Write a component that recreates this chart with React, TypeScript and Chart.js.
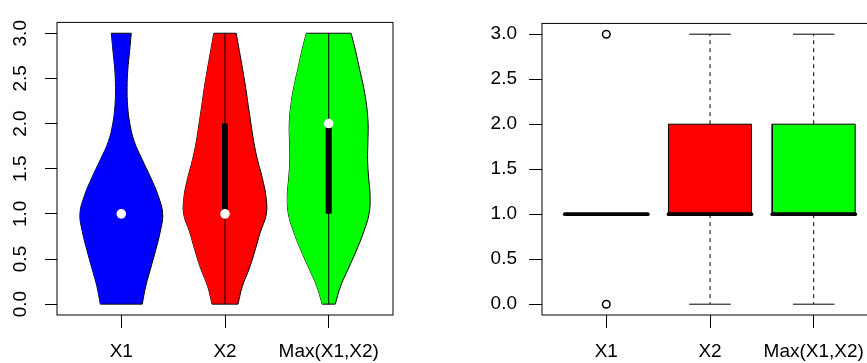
import React, { useEffect, useRef } from 'react';
import { Chart, registerables } from 'chart.js';

Chart.register(...registerables);

// ---------- data ----------
const categories = ['X1', 'X2', 'Max(X1,X2)'];
const yTickValues = [0, 0.5, 1, 1.5, 2, 2.5, 3];
const yTickLabels = ['0.0', '0.5', '1.0', '1.5', '2.0', '2.5', '3.0'];
const fillColors = ['#0000FF', '#FF0000', '#00FF00'];

// violin half-widths (in category units) read at these y levels
const densityY = [0, 0.2, 0.4, 0.6, 0.8, 1.0, 1.2, 1.4, 1.6, 1.8, 2.0, 2.2, 2.4, 2.6, 2.8, 3.0];
const widthX1 = [0.202, 0.236, 0.284, 0.332, 0.375, 0.399, 0.356, 0.284, 0.202, 0.125, 0.082, 0.061, 0.056, 0.063, 0.080, 0.096];
const widthX2 = [0.125, 0.168, 0.236, 0.291, 0.341, 0.399, 0.394, 0.359, 0.313, 0.277, 0.250, 0.224, 0.199, 0.170, 0.139, 0.108];
const widthMax = [0.063, 0.115, 0.192, 0.269, 0.337, 0.389, 0.399, 0.385, 0.375, 0.378, 0.380, 0.365, 0.337, 0.298, 0.260, 0.216];
const violinWidths = [widthX1, widthX2, widthMax];

// violin summary statistics
const violinMedians = [1, 1, 2];
const q1 = [1, 1, 1];
const q3 = [1, 2, 2];
const whiskerLow = [1, 0, 0];
const whiskerHigh = [1, 3, 3];

// box plot statistics
const boxMedians = [1, 1, 1];
const outliers = [[0, 3], [], []];

// ---------- style ----------
const FONT = { family: '"Liberation Sans", Arial, Helvetica, sans-serif', size: 19 };
const BOX_HALF = 0.4;
const STAPLE_HALF = 0.2;

const framePlugin = {
  id: 'frame',
  afterDraw(chart: any) {
    const { ctx, chartArea: a } = chart;
    ctx.save();
    ctx.strokeStyle = '#000';
    ctx.lineWidth = 1;
    ctx.strokeRect(a.left, a.top, a.right - a.left, a.bottom - a.top);
    ctx.restore();
  },
};

function xScale() {
  return {
    type: 'linear',
    min: 0.38,
    max: 3.62,
    afterBuildTicks: (s: any) => {
      s.ticks = categories.map((_, i) => ({ value: i + 1 }));
    },
    afterFit: (s: any) => {
      s.height = 48;
    },
    ticks: {
      callback: (_v: any, i: number) => categories[i],
      font: FONT,
      color: '#000',
      padding: 12,
      maxRotation: 0,
      minRotation: 0,
      autoSkip: false,
    },
    grid: { drawOnChartArea: false, drawTicks: true, tickLength: 13, tickColor: '#000', tickWidth: 1 },
    border: { display: false },
  };
}

function yScale(rotated: boolean, width: number) {
  return {
    type: 'linear',
    min: -0.12,
    max: 3.12,
    afterBuildTicks: (s: any) => {
      s.ticks = yTickValues.map((v) => ({ value: v }));
    },
    afterFit: (s: any) => {
      s.width = width;
    },
    ticks: rotated
      ? {
          callback: (_v: any, i: number) => yTickLabels[i],
          font: FONT,
          color: '#000',
          padding: 11,
          minRotation: 90,
          maxRotation: 90,
          crossAlign: 'center',
          autoSkip: false,
        }
      : {
          callback: (_v: any, i: number) => yTickLabels[i],
          font: FONT,
          color: '#000',
          padding: 12,
          autoSkip: false,
        },
    grid: { drawOnChartArea: false, drawTicks: true, tickLength: rotated ? 12 : 13, tickColor: '#000', tickWidth: 1 },
    border: { display: false },
  };
}

function violinDatasets() {
  const ds: any[] = [];
  categories.forEach((_, i) => {
    const c = i + 1;
    const w = violinWidths[i];
    const last = densityY.length - 1;
    ds.push({
      data: densityY.map((y, k) => ({ x: c + w[k], y })),
      borderColor: '#000',
      borderWidth: 1,
      backgroundColor: fillColors[i],
      fill: '+1',
      tension: 0.4,
      pointRadius: 0,
      order: 5,
    });
    ds.push({
      data: densityY.map((y, k) => ({ x: c - w[k], y })),
      borderColor: '#000',
      borderWidth: 1,
      fill: false,
      tension: 0.4,
      pointRadius: 0,
      order: 5,
    });
    ds.push({
      data: [
        { x: c - w[0], y: densityY[0] },
        { x: c + w[0], y: densityY[0] },
      ],
      borderColor: '#000',
      borderWidth: 1,
      fill: false,
      tension: 0,
      pointRadius: 0,
      order: 4,
    });
    ds.push({
      data: [
        { x: c - w[last], y: densityY[last] },
        { x: c + w[last], y: densityY[last] },
      ],
      borderColor: '#000',
      borderWidth: 1,
      fill: false,
      tension: 0,
      pointRadius: 0,
      order: 4,
    });
    // whisker line
    ds.push({
      data: [
        { x: c, y: whiskerLow[i] },
        { x: c, y: whiskerHigh[i] },
      ],
      borderColor: '#000',
      borderWidth: 1,
      fill: false,
      tension: 0,
      pointRadius: 0,
      order: 3,
    });
    // IQR bar
    ds.push({
      data: [
        { x: c, y: q1[i] },
        { x: c, y: q3[i] },
      ],
      borderColor: '#000',
      borderWidth: 6,
      borderCapStyle: 'butt',
      fill: false,
      tension: 0,
      pointRadius: 0,
      order: 2,
    });
    // median dot
    ds.push({
      data: [{ x: c, y: violinMedians[i] }],
      showLine: false,
      pointRadius: 4.8,
      pointBorderWidth: 0,
      pointBackgroundColor: '#FFFFFF',
      pointBorderColor: '#FFFFFF',
      order: 0,
    });
  });
  return ds;
}

function boxDatasets() {
  const ds: any[] = [];
  categories.forEach((_, i) => {
    const c = i + 1;
    ds.push({
      data: [
        { x: c - BOX_HALF, y: q1[i] },
        { x: c + BOX_HALF, y: q1[i] },
        { x: c + BOX_HALF, y: q3[i] },
        { x: c - BOX_HALF, y: q3[i] },
        { x: c - BOX_HALF, y: q1[i] },
      ],
      borderColor: '#000',
      borderWidth: 1,
      backgroundColor: fillColors[i],
      fill: 'shape',
      tension: 0,
      pointRadius: 0,
      order: 4,
    });
    const whisk = (a: number, b: number) => ({
      data: [
        { x: c, y: a },
        { x: c, y: b },
      ],
      borderColor: '#000',
      borderWidth: 1,
      borderDash: [4, 4],
      fill: false,
      tension: 0,
      pointRadius: 0,
      order: 3,
    });
    if (whiskerHigh[i] > q3[i]) ds.push(whisk(q3[i], whiskerHigh[i]));
    if (whiskerLow[i] < q1[i]) ds.push(whisk(q1[i], whiskerLow[i]));
    const staple = (v: number) => ({
      data: [
        { x: c - STAPLE_HALF, y: v },
        { x: c + STAPLE_HALF, y: v },
      ],
      borderColor: '#000',
      borderWidth: 1,
      fill: false,
      tension: 0,
      pointRadius: 0,
      order: 3,
    });
    ds.push(staple(whiskerHigh[i]));
    ds.push(staple(whiskerLow[i]));
    ds.push({
      data: [
        { x: c - BOX_HALF, y: boxMedians[i] },
        { x: c + BOX_HALF, y: boxMedians[i] },
      ],
      borderColor: '#000',
      borderWidth: 3.75,
      borderCapStyle: 'round',
      fill: false,
      tension: 0,
      pointRadius: 0,
      order: 1,
    });
    if (outliers[i].length) {
      ds.push({
        data: outliers[i].map((v) => ({ x: c, y: v })),
        showLine: false,
        pointRadius: 3.8,
        pointBorderWidth: 1.5,
        pointBorderColor: '#000',
        pointBackgroundColor: 'rgba(0,0,0,0)',
        order: 0,
      });
    }
  });
  return ds;
}

export default function App() {
  const leftRef = useRef<HTMLCanvasElement>(null);
  const rightRef = useRef<HTMLCanvasElement>(null);

  useEffect(() => {
    const common = {
      animation: false,
      responsive: false,
      maintainAspectRatio: false,
      events: [],
      plugins: { legend: { display: false }, tooltip: { enabled: false } },
    };
    const left = new Chart(leftRef.current as HTMLCanvasElement, {
      type: 'line',
      data: { datasets: violinDatasets() },
      options: {
        ...common,
        indexAxis: 'y',
        layout: { padding: { left: 0, top: 12, right: 41, bottom: 0 } },
        scales: { x: xScale(), y: yScale(true, 57) },
      } as any,
      plugins: [framePlugin],
    } as any);
    const right = new Chart(rightRef.current as HTMLCanvasElement, {
      type: 'line',
      data: { datasets: boxDatasets() },
      options: {
        ...common,
        indexAxis: 'x',
        layout: { padding: { left: 0, top: 12, right: 26, bottom: 0 } },
        scales: { x: xScale(), y: yScale(false, 108) },
      } as any,
      plugins: [framePlugin],
    } as any);
    return () => {
      left.destroy();
      right.destroy();
    };
  }, []);

  return (
    <div
      style={{
        position: 'fixed',
        left: 0,
        top: 0,
        width: 867,
        height: 363,
        overflow: 'hidden',
        background: '#fff',
      }}
    >
      <canvas ref={leftRef} width={434} height={363} style={{ position: 'absolute', left: 0, top: 0 }} />
      <canvas ref={rightRef} width={470} height={363} style={{ position: 'absolute', left: 434, top: 0 }} />
    </div>
  );
}
